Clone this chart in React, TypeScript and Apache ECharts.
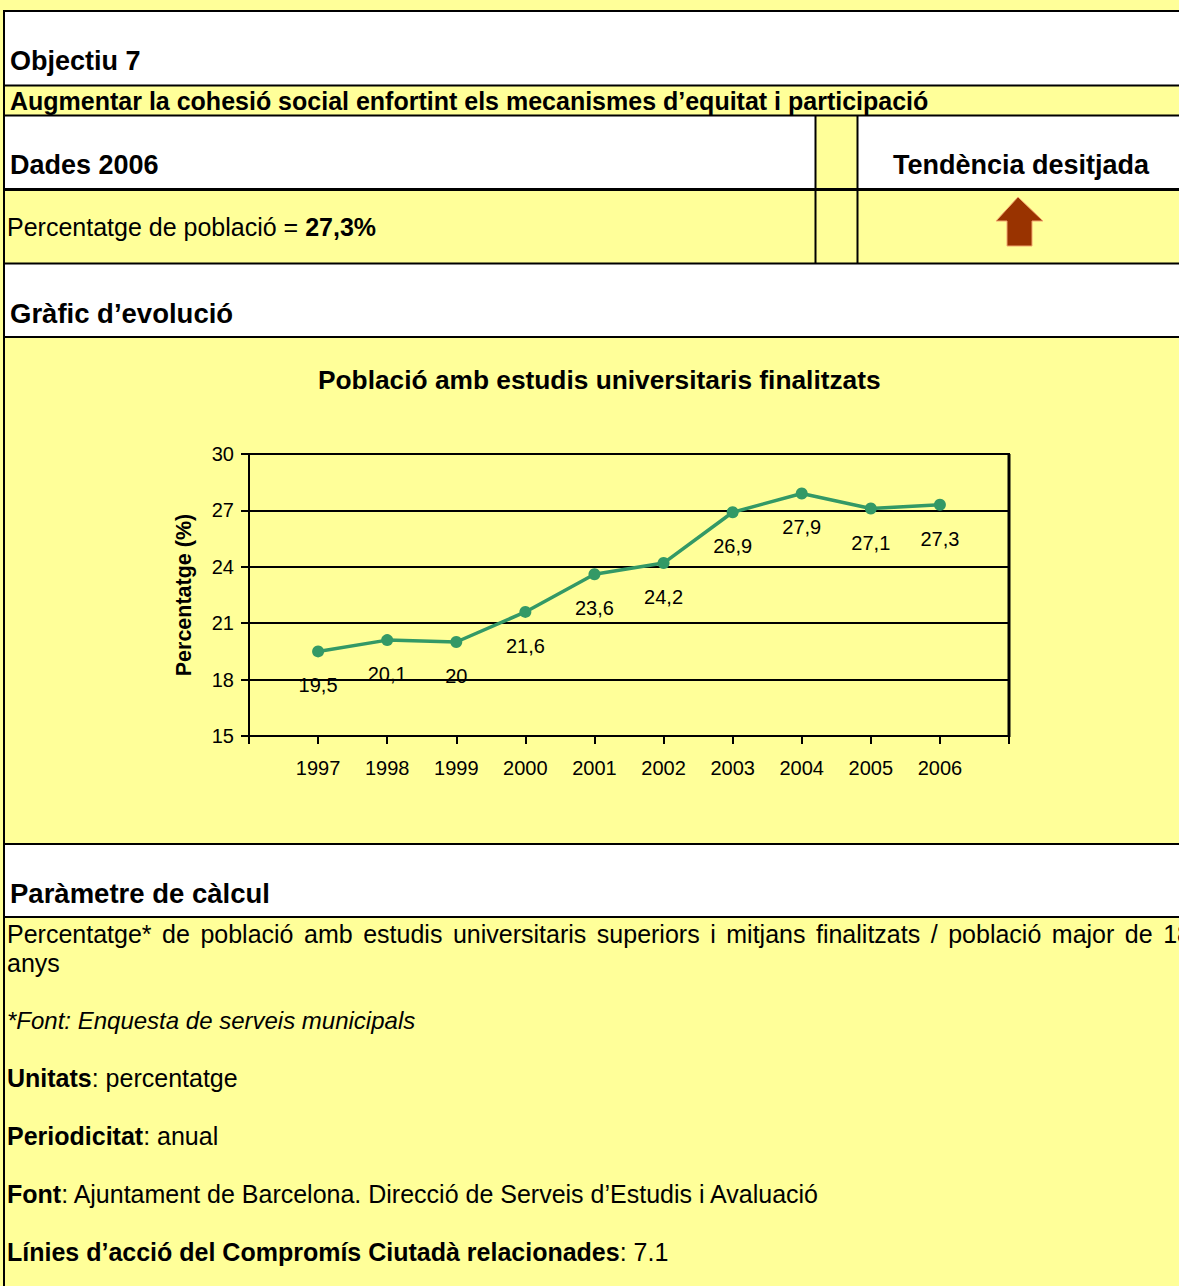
import React, { useEffect, useRef } from "react";
import * as echarts from "echarts";

const years = [1997, 1998, 1999, 2000, 2001, 2002, 2003, 2004, 2005, 2006];
const values = [19.5, 20.1, 20.0, 21.6, 23.6, 24.2, 26.9, 27.9, 27.1, 27.3];
const yMin = 15;
const yMax = 30;
const yStep = 3;
const xMin = 1996;
const xMax = 2007;

const chartTitle = "Població amb estudis universitaris finalitzats";
const yName = "Percentatge (%)";
const bodyWords = [
  "Percentatge*", "de", "població", "amb", "estudis", "universitaris", "superiors",
  "i", "mitjans", "finalitzats", "/", "població", "major", "de", "18",
];

const FONT = "'Liberation Sans', Arial, Helvetica, sans-serif";
const YELLOW = "#FFFF99";
const GREEN = "#339966";

function hline(y: number, x1: number, x2: number, w = 2) {
  return { type: "line", silent: true, shape: { x1, y1: y, x2, y2: y }, style: { stroke: "#000", lineWidth: w } };
}
function vline(x: number, y1: number, y2: number, w = 2) {
  return { type: "line", silent: true, shape: { x1: x, y1, x2: x, y2 }, style: { stroke: "#000", lineWidth: w } };
}
function rect(x: number, y: number, w: number, h: number, fill: string) {
  return { type: "rect", silent: true, shape: { x, y, width: w, height: h }, style: { fill } };
}
function txt(x: number, y: number, t: string, size: number, weight = "normal", fontStyle = "normal") {
  return {
    type: "text",
    silent: true,
    x,
    y,
    style: {
      text: t,
      fontSize: size,
      fontWeight: weight,
      fontStyle,
      fontFamily: FONT,
      fill: "#000",
      align: "left",
      verticalAlign: "middle",
    },
  };
}
function richTxt(x: number, y: number, bold: string, rest: string, size = 25) {
  return {
    type: "text",
    silent: true,
    x,
    y,
    style: {
      text: `{b|${bold}}{r|${rest}}`,
      fill: "#000",
      align: "left",
      verticalAlign: "middle",
      rich: {
        b: { fontSize: size, fontWeight: "bold", fontFamily: FONT, fill: "#000" },
        r: { fontSize: size, fontWeight: "normal", fontFamily: FONT, fill: "#000" },
      },
    },
  };
}
function justifiedWords(words: string[], x0: number, x1: number, y: number, size: number) {
  const c = document.createElement("canvas").getContext("2d");
  let widths = words.map((w) => w.length * size * 0.5);
  if (c) {
    c.font = `${size}px ${FONT}`;
    widths = words.map((w) => c.measureText(w).width);
  }
  const total = widths.reduce((a, b) => a + b, 0);
  const gap = (x1 - x0 - total) / (words.length - 1);
  const out: any[] = [];
  let x = x0;
  words.forEach((w, i) => {
    out.push(txt(x, y, w, size));
    x += widths[i] + gap;
  });
  return out;
}

export default function App() {
  const ref = useRef<HTMLDivElement>(null);

  useEffect(() => {
    document.body.style.margin = "0";
    if (!ref.current) return;
    const chart = echarts.init(ref.current, undefined, { renderer: "svg" });

    const graphics: any[] = [
      rect(5, 12, 1174, 73, "#FFFFFF"),
      rect(5, 116, 810, 73, "#FFFFFF"),
      rect(858, 116, 321, 73, "#FFFFFF"),
      rect(5, 264, 1174, 73, "#FFFFFF"),
      rect(5, 845, 1174, 72, "#FFFFFF"),
      hline(11, 4, 1179),
      hline(85.5, 4, 1179),
      hline(115.5, 4, 1179),
      hline(189.5, 4, 1179, 3),
      hline(263.5, 4, 1179),
      hline(337, 4, 1179),
      hline(844, 4, 1179),
      hline(917, 4, 1179),
      vline(4, 10, 1286),
      vline(815.5, 115, 264),
      vline(857.5, 115, 264),
      vline(1009, 454, 737, 3),
      {
        type: "polygon",
        silent: true,
        shape: {
          points: [
            [1018, 197], [1043, 221], [1032, 221], [1032, 246],
            [1007, 246], [1007, 221], [996, 221],
          ],
        },
        style: { fill: "#993300", stroke: "#F2A66E", lineWidth: 1 },
      },
      txt(10, 61, "Objectiu 7", 27, "bold"),
      txt(10, 101, "Augmentar la cohesió social enfortint els mecanismes d’equitat i participació", 25, "bold"),
      txt(10, 165, "Dades 2006", 27, "bold"),
      txt(893, 165, "Tendència desitjada", 27, "bold"),
      {
        type: "text",
        silent: true,
        x: 7,
        y: 227,
        style: {
          text: "{r|Percentatge de població = }{b|27,3%}",
          fill: "#000",
          align: "left",
          verticalAlign: "middle",
          rich: {
            b: { fontSize: 25, fontWeight: "bold", fontFamily: FONT, fill: "#000" },
            r: { fontSize: 25, fontWeight: "normal", fontFamily: FONT, fill: "#000" },
          },
        },
      },
      txt(10, 313, "Gràfic d’evolució", 27.5, "bold"),
      txt(10, 893, "Paràmetre de càlcul", 27.5, "bold"),
      ...justifiedWords(bodyWords, 7, 1191, 934, 25),
      txt(7, 963, "anys", 25),
      txt(7, 1020, "*Font: Enquesta de serveis municipals", 24, "normal", "italic"),
      richTxt(7, 1078, "Unitats", ": percentatge"),
      richTxt(7, 1136, "Periodicitat", ": anual"),
      richTxt(7, 1194, "Font", ": Ajuntament de Barcelona. Direcció de Serveis d’Estudis i Avaluació"),
      richTxt(7, 1252, "Línies d’acció del Compromís Ciutadà relacionades", ": 7.1"),
    ];

    chart.setOption({
      animation: false,
      backgroundColor: YELLOW,
      title: {
        text: chartTitle,
        left: 318,
        top: 367,
        padding: 0,
        textStyle: { fontSize: 26.3, fontWeight: "bold", fontFamily: FONT, color: "#000" },
      },
      grid: {
        left: 249,
        right: 170,
        top: 454,
        bottom: 550,
        show: true,
        borderColor: "#000",
        borderWidth: 2,
        backgroundColor: "transparent",
      },
      xAxis: {
        type: "value",
        min: xMin,
        max: xMax,
        interval: 1,
        axisLine: { show: true, onZero: false, lineStyle: { color: "#000", width: 2 } },
        axisTick: { show: true, length: 8, lineStyle: { color: "#000", width: 2 } },
        splitLine: { show: false },
        axisLabel: {
          margin: 22,
          fontSize: 20,
          fontFamily: FONT,
          color: "#000",
          formatter: (v: number) => (v === xMin || v === xMax ? "" : String(v)),
        },
      },
      yAxis: {
        type: "value",
        min: yMin,
        max: yMax,
        interval: yStep,
        name: yName,
        nameLocation: "middle",
        nameGap: 54,
        nameTextStyle: { fontSize: 21.5, fontWeight: "bold", fontFamily: FONT, color: "#000" },
        axisLine: { show: true, lineStyle: { color: "#000", width: 2 } },
        axisTick: { show: true, length: 8, lineStyle: { color: "#000", width: 2 } },
        splitLine: { show: true, lineStyle: { color: "#000", width: 2 } },
        axisLabel: { margin: 15, fontSize: 20, fontFamily: FONT, color: "#000" },
      },
      series: [
        {
          type: "line",
          data: years.map((y, i) => [y, values[i]]),
          symbol: "circle",
          symbolSize: 12,
          lineStyle: { color: GREEN, width: 3.5 },
          itemStyle: { color: GREEN },
          label: {
            show: true,
            position: "bottom",
            distance: 18,
            fontSize: 20,
            fontFamily: FONT,
            color: "#000",
            formatter: (p: any) => String(p.value[1]).replace(".", ","),
          },
        },
      ],
      graphic: { elements: graphics },
    });

    return () => chart.dispose();
  }, []);

  return <div ref={ref} style={{ width: 1179, height: 1286 }} />;
}
